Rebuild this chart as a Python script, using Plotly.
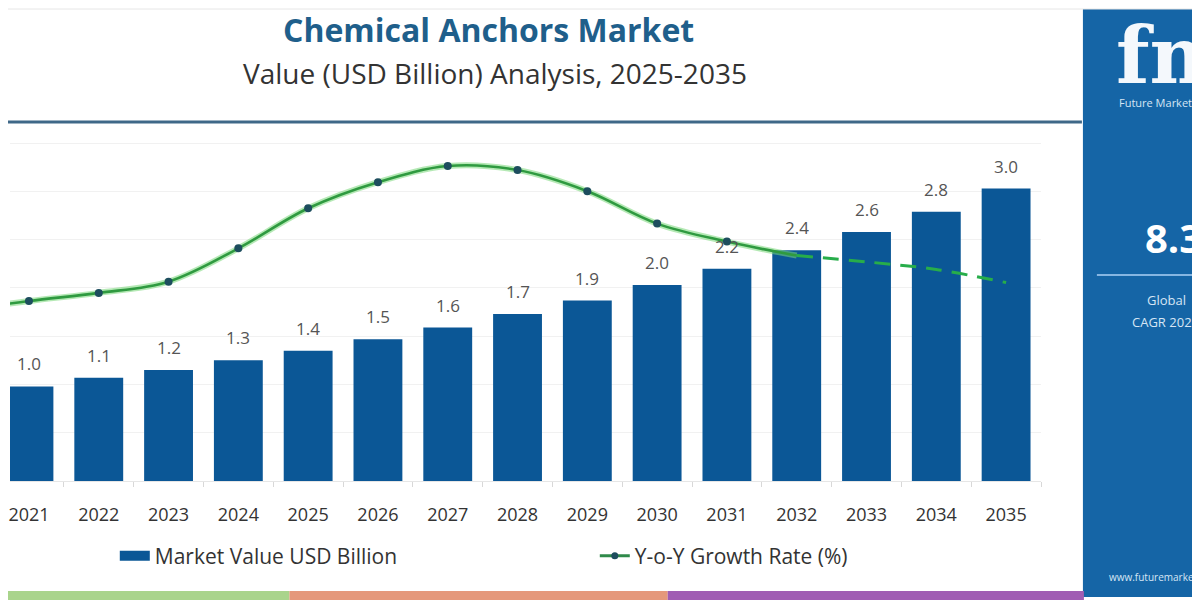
import plotly.graph_objects as go

# ---------------- data ----------------
years_all = ["2020", "2021", "2022", "2023", "2024", "2025", "2026", "2027",
             "2028", "2029", "2030", "2031", "2032", "2033", "2034", "2035"]
bar_years = years_all[1:]
market_value = [0.98, 1.07, 1.15, 1.25, 1.35, 1.47, 1.59, 1.73, 1.87, 2.03,
                2.20, 2.39, 2.58, 2.79, 3.03]
value_labels = ["1.0", "1.1", "1.2", "1.3", "1.4", "1.5", "1.6", "1.7", "1.9",
                "2.0", "2.2", "2.4", "2.6", "2.8", "3.0"]
growth_rate = [5.78, 6.00, 6.18, 6.43, 7.17, 8.06, 8.64, 9.00, 8.91, 8.44,
               7.72, 7.32, 7.01, 6.87, 6.70, 6.41]
solid_end = "2032"      # actual/forecast split of the growth line
marker_end = "2031"

title_text = "Chemical Anchors Market"
subtitle_text = "Value (USD Billion) Analysis, 2025-2035"
bar_name = "Market Value USD Billion"
line_name = "Y-o-Y Growth Rate (%)"
cagr_text = "8.3%"
brand_text = "fmi"
brand_name = "Future Market Insights"
cagr_label_1 = "Global"
cagr_label_2 = "CAGR 2025-2035"
website = "www.futuremarketinsights.com"

# ---------------- layout geometry ----------------
OFF = 8                    # page offset of the figure inside the window
W, H = 1200 - OFF, 600 - OFF
PL, PR = 0, 1041 - OFF     # plot area (figure pixels)
PT, PB = 130 - OFF, 481 - OFF
FONT = "Open Sans"
BAR_COLOR = "#0b5796"
PANEL = "#1565a6"


def px(sx):
    """screen x pixel -> paper x"""
    return (sx - OFF - PL) / (PR - PL)


def py(sy):
    """screen y pixel -> paper y"""
    return (PB - (sy - OFF)) / (PB - PT)


i_solid = years_all.index(solid_end)
i_mark = years_all.index(marker_end)

fig = go.Figure()

fig.add_trace(go.Bar(
    x=bar_years, y=market_value, width=0.7,
    marker=dict(color=BAR_COLOR, line=dict(width=0)),
    showlegend=False, hoverinfo="x+y",
))

# growth line: glow + core, solid part
fig.add_trace(go.Scatter(
    x=years_all[:i_solid + 1], y=growth_rate[:i_solid + 1], yaxis="y2",
    mode="lines", line=dict(color="rgba(120,215,120,0.55)", width=6, shape="spline"),
    showlegend=False, hoverinfo="skip",
))
fig.add_trace(go.Scatter(
    x=years_all[:i_solid + 1], y=growth_rate[:i_solid + 1], yaxis="y2",
    mode="lines", line=dict(color="#2f9a40", width=2.6, shape="spline"),
    showlegend=False, hoverinfo="skip",
))
# dashed forecast part
fig.add_trace(go.Scatter(
    x=years_all[i_solid:], y=growth_rate[i_solid:], yaxis="y2",
    mode="lines", line=dict(color="#27ad4a", width=3, dash="16px,10px", shape="spline"),
    showlegend=False, hoverinfo="skip",
))
# markers
fig.add_trace(go.Scatter(
    x=years_all[:i_mark + 1], y=growth_rate[:i_mark + 1], yaxis="y2",
    mode="markers", marker=dict(color="#1d4d5e", size=8),
    showlegend=False, hoverinfo="x+y",
))

# legend entries
fig.add_trace(go.Scatter(
    x=[None], y=[None], mode="lines", name=bar_name,
    line=dict(color=BAR_COLOR, width=12),
))
fig.add_trace(go.Scatter(
    x=[None], y=[None], mode="lines+markers", name=line_name, yaxis="y2",
    line=dict(color="#2f8a4a", width=3), marker=dict(color="#1d4d5e", size=7),
))

annotations = []
for yr, v, lab in zip(bar_years, market_value, value_labels):
    annotations.append(dict(
        x=years_all.index(yr), y=v, xref="x", yref="y", text=lab, showarrow=False,
        yanchor="bottom", yshift=9, font=dict(family=FONT, size=17, color="#555555"),
    ))

# header texts
annotations += [
    dict(x=px(487), y=py(29), xref="paper", yref="paper", text="<b>" + title_text + "</b>",
         showarrow=False, xanchor="center", yanchor="middle",
         font=dict(family=FONT, size=32, color="#1f5f8b")),
    dict(x=px(494), y=py(73), xref="paper", yref="paper", text=subtitle_text,
         showarrow=False, xanchor="center", yanchor="middle",
         font=dict(family=FONT, size=28, color="#333333")),
]

# side panel texts
annotations += [
    dict(x=px(1114), y=py(55), xref="paper", yref="paper", text="<b>" + brand_text + "</b>",
         showarrow=False, xanchor="left", yanchor="middle",
         font=dict(family="DejaVu Serif", size=78, color="#f4f8fc")),
    dict(x=px(1117), y=py(102), xref="paper", yref="paper", text=brand_name,
         showarrow=False, xanchor="left", yanchor="middle",
         font=dict(family=FONT, size=11, color="#d6e6f5")),
    dict(x=px(1143), y=py(237), xref="paper", yref="paper", text="<b>" + cagr_text + "</b>",
         showarrow=False, xanchor="left", yanchor="middle",
         font=dict(family=FONT, size=40, color="#ffffff")),
    dict(x=px(1145), y=py(300), xref="paper", yref="paper", text=cagr_label_1,
         showarrow=False, xanchor="left", yanchor="middle",
         font=dict(family=FONT, size=13, color="#d6e6f5")),
    dict(x=px(1130), y=py(322), xref="paper", yref="paper", text=cagr_label_2,
         showarrow=False, xanchor="left", yanchor="middle",
         font=dict(family=FONT, size=13, color="#d6e6f5")),
    dict(x=px(1107), y=py(577), xref="paper", yref="paper", text=website,
         showarrow=False, xanchor="left", yanchor="middle",
         font=dict(family=FONT, size=10, color="#d6e6f5")),
]

shapes = [
    # top thin border
    dict(type="line", xref="paper", yref="paper", x0=px(0), x1=px(1210), y0=py(9), y1=py(9),
         line=dict(color="#e6e6e6", width=1)),
    # header rule
    dict(type="line", xref="paper", yref="paper", x0=px(0), x1=px(1082), y0=py(122), y1=py(122),
         line=dict(color="#3f6888", width=3)),
    # bottom colour strip
    dict(type="rect", xref="paper", yref="paper", x0=px(0), x1=px(288), y0=py(591), y1=py(605),
         fillcolor="#a9d48c", line=dict(width=0)),
    dict(type="rect", xref="paper", yref="paper", x0=px(288), x1=px(667), y0=py(591), y1=py(605),
         fillcolor="#e5987b", line=dict(width=0)),
    dict(type="rect", xref="paper", yref="paper", x0=px(667), x1=px(1084), y0=py(591), y1=py(605),
         fillcolor="#a05db3", line=dict(width=0)),
    # right panel
    dict(type="rect", xref="paper", yref="paper", x0=px(1083), x1=px(1210), y0=py(9), y1=py(597),
         fillcolor=PANEL, line=dict(width=0), layer="below"),
    dict(type="line", xref="paper", yref="paper", x0=px(1097), x1=px(1210), y0=py(275), y1=py(275),
         line=dict(color="#86b6e2", width=2)),
]

fig.update_layout(
    width=W, height=H,
    margin=dict(l=PL, r=W - PR, t=PT, b=H - PB, pad=0),
    paper_bgcolor="white", plot_bgcolor="white",
    font=dict(family=FONT, color="#333333"),
    xaxis=dict(
        type="category", categoryorder="array", categoryarray=years_all,
        range=[0.614 + OFF / 70.0, 15.5], tickson="boundaries", ticks="outside", ticklen=5,
        tickcolor="#d8d8d8", showline=True, linecolor="#e6e6e6", linewidth=1,
        showgrid=False, tickfont=dict(family=FONT, size=18, color="#333333"),
        ticklabelstandoff=17, fixedrange=True,
    ),
    yaxis=dict(
        range=[0, 3.637], dtick=0.5, showgrid=True, gridcolor="#f1f1f1", gridwidth=1,
        zeroline=False, showticklabels=False, ticks="", fixedrange=True,
    ),
    yaxis2=dict(
        range=[2.0, 9.8], overlaying="y", visible=False, fixedrange=True,
    ),
    legend=dict(
        orientation="h", x=px(105 + OFF), xanchor="left", y=py(556), yanchor="middle",
        bgcolor="rgba(0,0,0,0)", borderwidth=0, entrywidthmode="pixels", entrywidth=435,
        font=dict(family=FONT, size=21, color="#333333"), itemwidth=30,
    ),
    annotations=annotations,
    shapes=shapes,
)

fig.write_html("out.html")
